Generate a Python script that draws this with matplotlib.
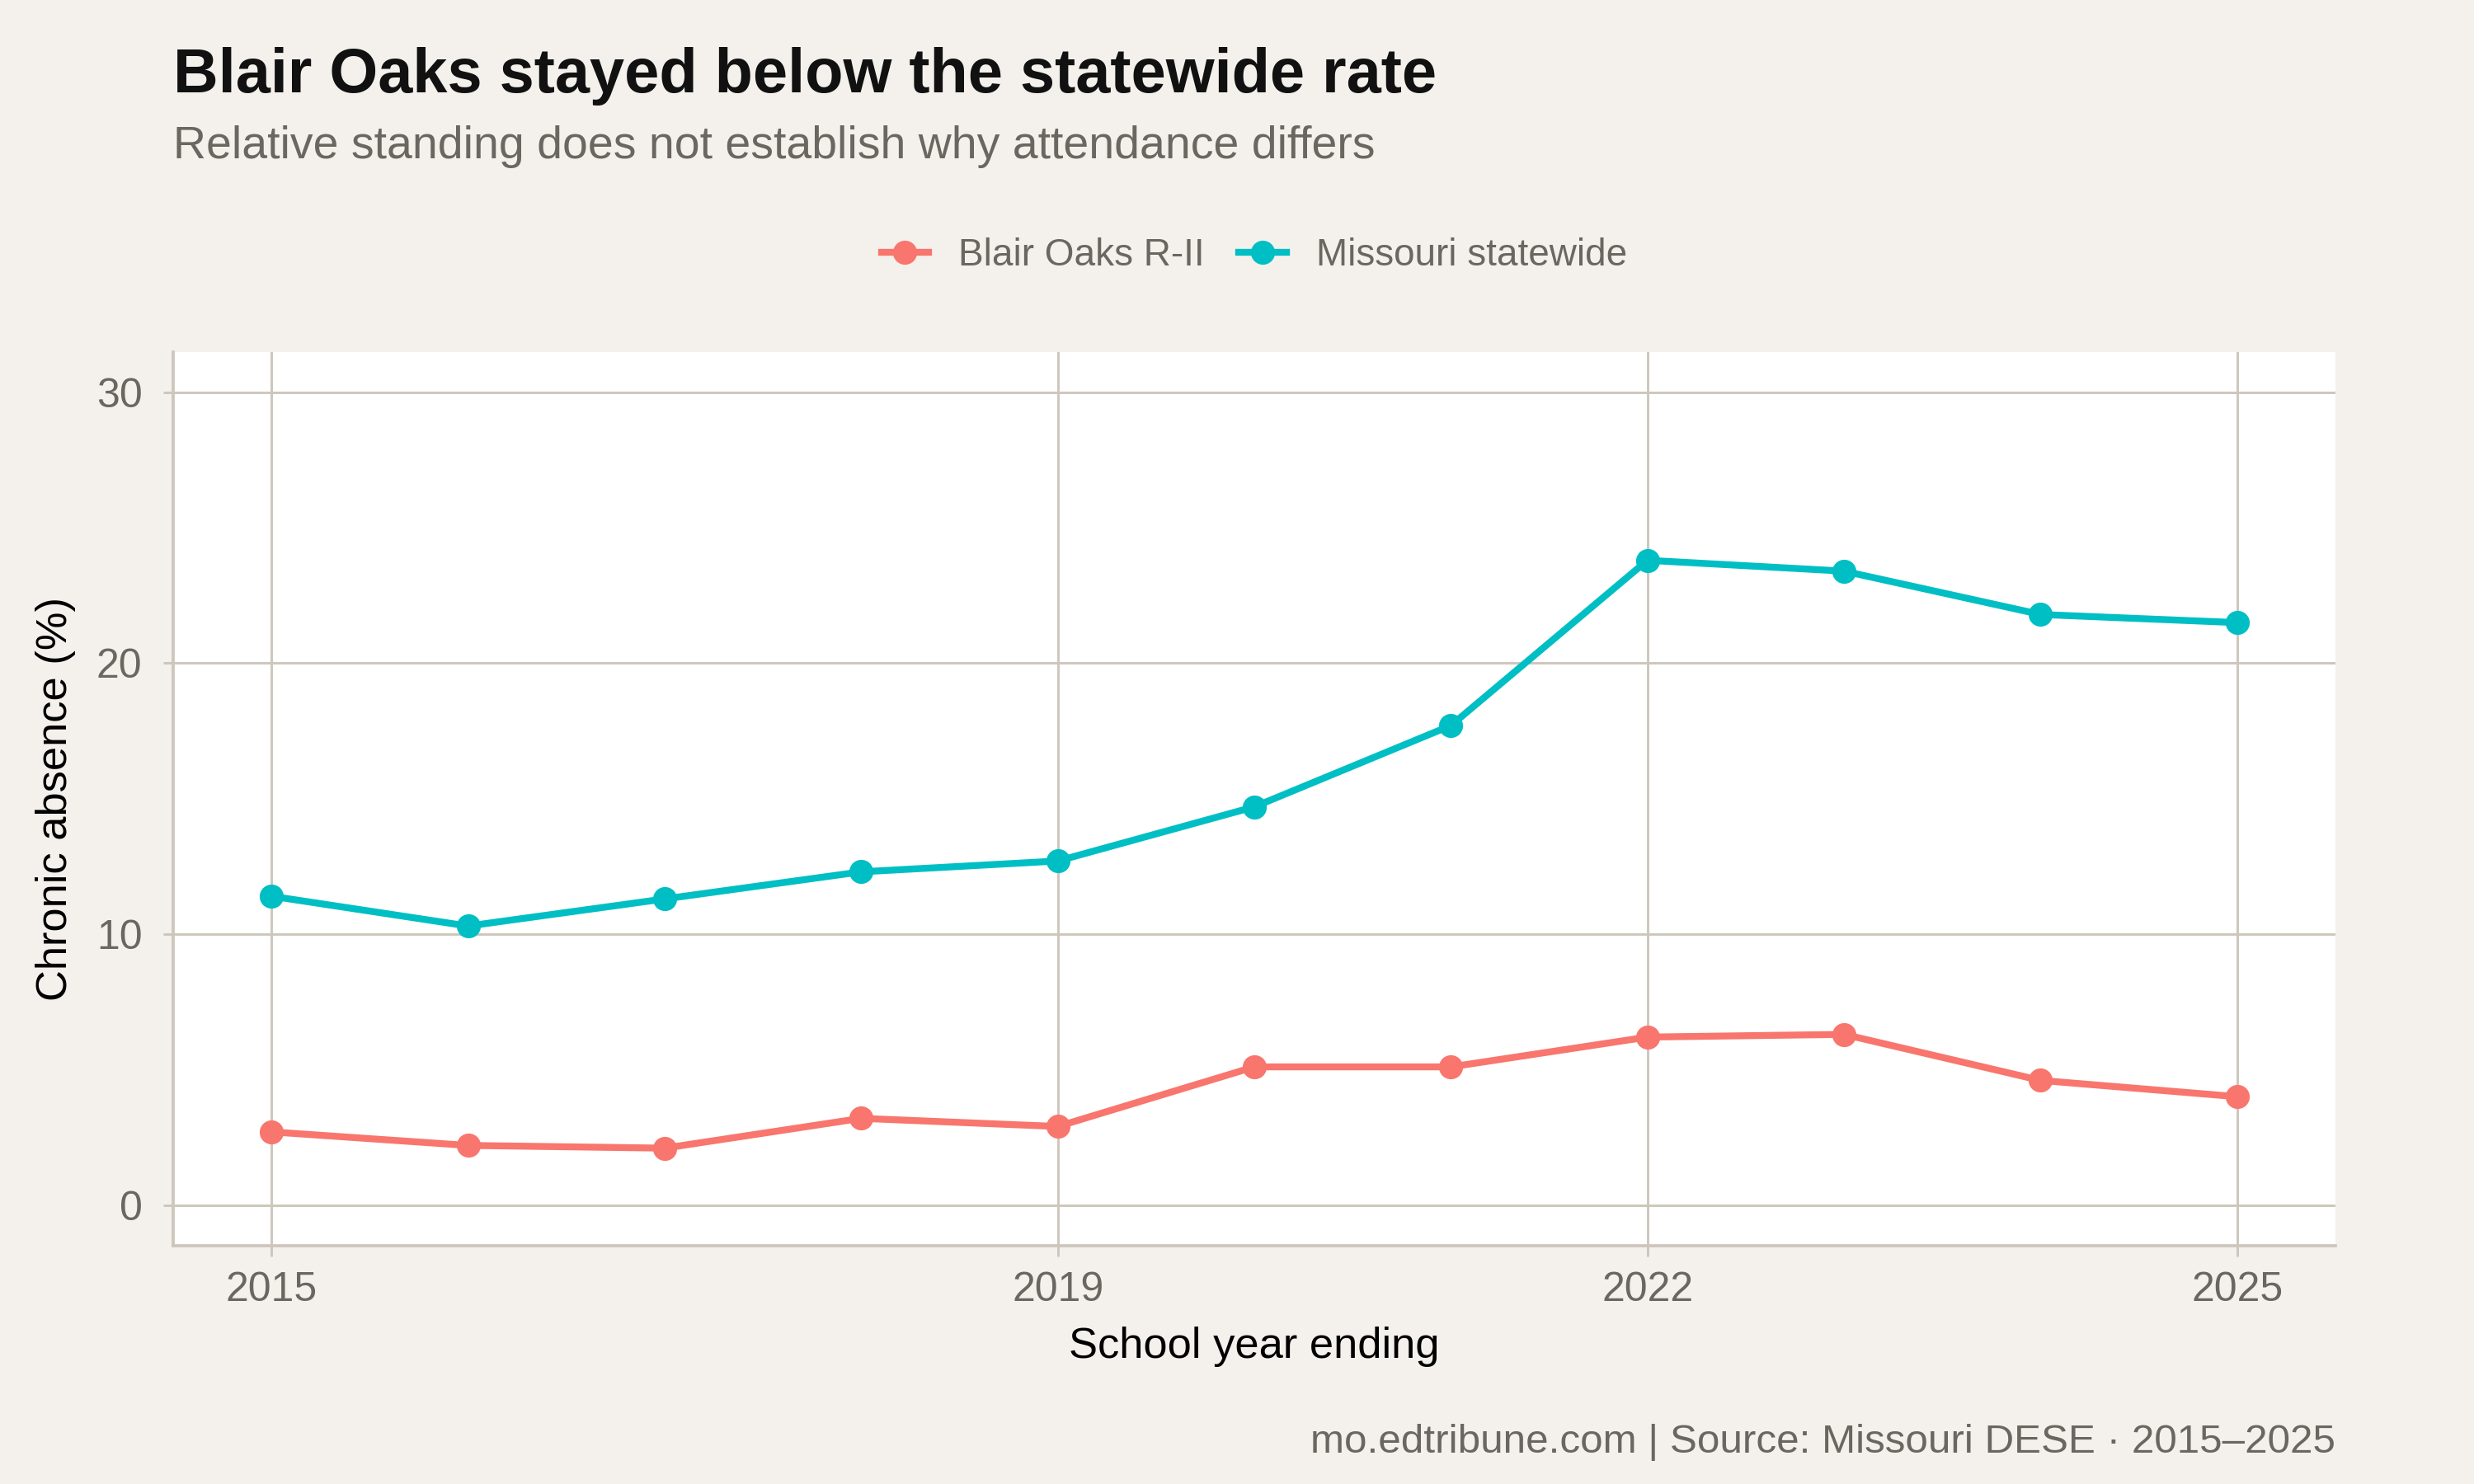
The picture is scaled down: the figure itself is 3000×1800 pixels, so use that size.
import matplotlib
matplotlib.use("Agg")
import matplotlib.pyplot as plt
from matplotlib.lines import Line2D

# data
years = [2015, 2016, 2017, 2018, 2019, 2020, 2021, 2022, 2023, 2024, 2025]
blair_oaks = [2.7, 2.2, 2.1, 3.2, 2.9, 5.1, 5.1, 6.2, 6.3, 4.6, 4.0]
missouri = [11.4, 10.3, 11.3, 12.3, 12.7, 14.7, 17.7, 23.8, 23.4, 21.8, 21.5]
series_names = ["Blair Oaks R-II", "Missouri statewide"]
x_ticks = [2015, 2019, 2022, 2025]
y_ticks = [0, 10, 20, 30]

BG = "#F4F1EC"
GRID = "#CDC6BC"
MUTED = "#6B6660"
COLORS = ["#F8766D", "#00BFC4"]

plt.rcParams["font.family"] = ["Liberation Sans", "DejaVu Sans"]

fig = plt.figure(figsize=(10, 6), dpi=300, facecolor=BG)
ax = fig.add_axes([0.07, 0.1606, 0.874, 0.6024])
ax.set_facecolor("white")

for vals, col in zip([blair_oaks, missouri], COLORS):
    ax.plot(years, vals, color=col, lw=2.0, marker="o", ms=6, zorder=3)

ax.set_xlim(2014.5, 2025.5)
ax.set_ylim(-1.5, 31.5)
ax.set_xticks(x_ticks)
ax.set_yticks(y_ticks)
ax.grid(True, color=GRID, lw=0.7, zorder=0)
ax.set_axisbelow(True)

for side in ["top", "right"]:
    ax.spines[side].set_visible(False)
for side in ["left", "bottom"]:
    ax.spines[side].set_color(GRID)
    ax.spines[side].set_linewidth(0.9)

ax.tick_params(axis="both", colors=GRID, length=3, width=0.7, labelsize=12,
               labelcolor=MUTED)
ax.tick_params(axis="x", pad=4.5)
ax.tick_params(axis="y", pad=6)

ax.set_xlabel("School year ending", fontsize=12.6, color="black", labelpad=5)
ax.set_ylabel("Chronic absence (%)", fontsize=12.6, color="black", labelpad=6)

fig.text(0.07, 0.9378, "Blair Oaks stayed below the statewide rate",
         fontsize=18.2, fontweight="bold", color="#111111", va="baseline")
fig.text(0.07, 0.8933, "Relative standing does not establish why attendance differs",
         fontsize=13.3, color=MUTED, va="baseline")
fig.text(0.944, 0.0211, "mo.edtribune.com | Source: Missouri DESE \u00b7 2015\u20132025",
         fontsize=11.85, color=MUTED, ha="right", va="baseline")

handles = [Line2D([], [], color=c, lw=2.0, marker="o", ms=6) for c in COLORS]
leg = fig.legend(handles, series_names, loc="center", bbox_to_anchor=(0.507, 0.828),
                 ncol=2, frameon=False, fontsize=11, handlelength=1.25,
                 handletextpad=0.8, columnspacing=0.9)
for t in leg.get_texts():
    t.set_color(MUTED)

fig.savefig("out.png", dpi=300, facecolor=BG)
